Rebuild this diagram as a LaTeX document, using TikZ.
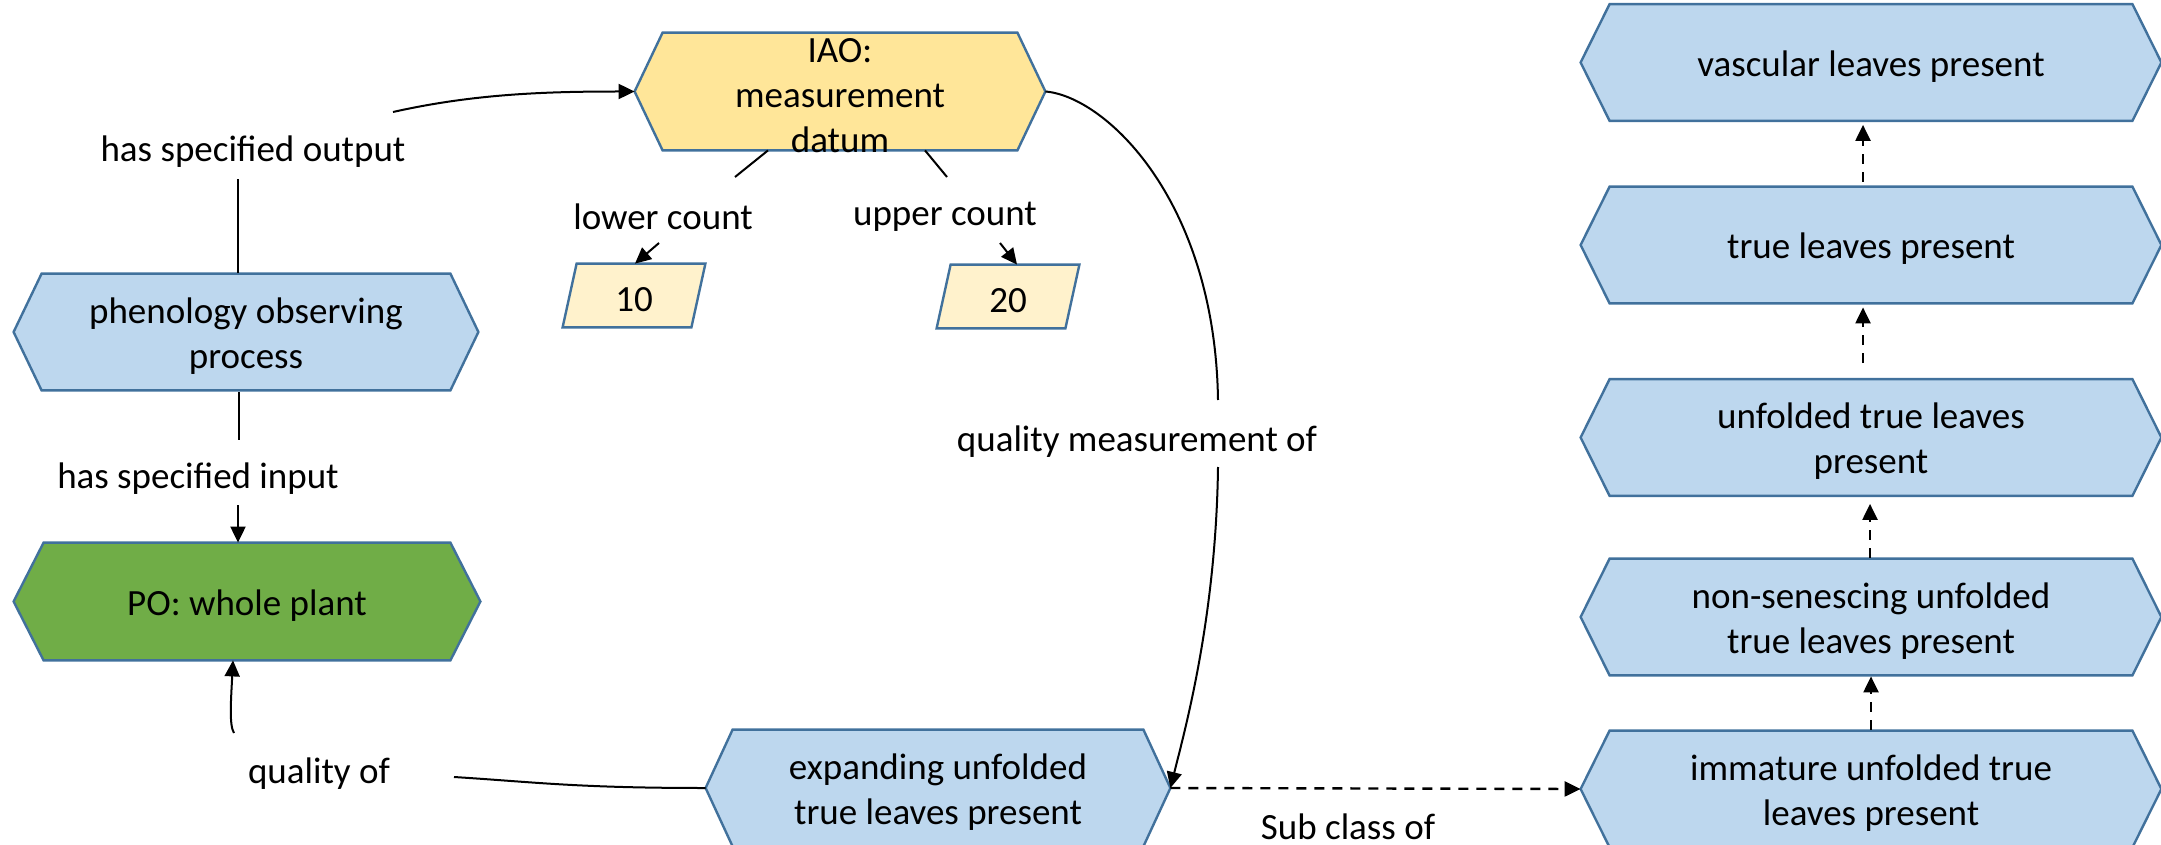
\documentclass[tikz,border=0pt]{standalone}
\usepackage{fontspec}
\setmainfont{Carlito}
\usetikzlibrary{arrows.meta,calc,backgrounds}
\definecolor{hexfill}{HTML}{BDD7EE}
\definecolor{hexline}{HTML}{41719C}
\definecolor{iaofill}{HTML}{FFE699}
\definecolor{valfill}{HTML}{FFF2CC}
\definecolor{pofill}{HTML}{70AD47}
\newcommand\hexpath[3]{\path[#2] (#1.west) -- ([xshift=#3]#1.north west) -- ([xshift=-#3]#1.north east) -- (#1.east) -- ([xshift=-#3]#1.south east) -- ([xshift=#3]#1.south west) -- cycle;}
\newcommand\parapath[3]{\path[#2] ([xshift=#3]#1.north west) -- ([xshift=#3]#1.north east) -- ([xshift=-#3]#1.south east) -- ([xshift=-#3]#1.south west) -- cycle;}
\begin{document}
\begin{tikzpicture}[x=0.5pt,y=-0.5pt,
  txt/.style={font=\fontsize{18.5}{22.5}\selectfont, inner sep=0pt, align=center},
  shapebox/.style={inner sep=0pt},
  intext/.style={txt, yshift=-2pt},
  lhex/.style={shapebox, minimum width=232pt, minimum height=58pt},
  rhex/.style={shapebox, minimum width=290pt, minimum height=58pt},
  valbox/.style={shapebox, minimum width=64pt, minimum height=31.5pt},
  hexdraw/.style={fill=hexfill, draw=hexline, line width=1.2pt},
  conn/.style={line width=1pt},
  arr/.style={conn, -{Triangle[length=8pt,width=7.5pt]}},
  dasharr/.style={arr, line width=1.2pt, dash pattern=on 5pt off 4pt},
]
\useasboundingbox (0,0) rectangle (2161,845);

% shapes
\node[shapebox, minimum width=205pt, minimum height=58.5pt, label={[intext]center:{IAO:\\measurement\\datum}}] (iao) at (840,91.5) {};
\node[lhex, label={[intext]center:{phenology observing\\process}}] (phen) at (246,332) {};
\node[lhex, minimum width=233pt, minimum height=58.5pt, label={[intext]center:{PO: whole plant}}] (po) at (247,601.5) {};
\node[lhex, label={[intext]center:{expanding unfolded\\true leaves present}}] (exp) at (938,788) {};
\node[rhex, label={[intext]center:{vascular leaves present}}] (vasc) at (1871,62.5) {};
\node[rhex, label={[intext]center:{true leaves present}}] (tlp) at (1871,245) {};
\node[rhex, label={[intext]center:{unfolded true leaves\\present}}] (utlp) at (1871,437.5) {};
\node[rhex, label={[intext]center:{non-senescing unfolded\\true leaves present}}] (nsu) at (1871,617) {};
\node[rhex, label={[intext]center:{immature unfolded true\\leaves present}}] (imm) at (1871,789) {};
\node[valbox, label={[intext]center:{10}}] (b10) at (634,295.5) {};
\node[valbox, label={[intext]center:{20}}] (b20) at (1008,296.5) {};

% labels
\node[txt] (hso) at (253,152) {has specified output};
\node[txt] (hsi) at (198,479) {has specified input};
\node[txt] (lc) at (663,217) {lower count};
\node[txt] (uc) at (945,217) {upper count};
\node[txt] (qmo) at (1137,442) {quality measurement of};
\node[txt] (qof) at (319,774) {quality of};
\node[txt] (sco) at (1348,827) {Sub class of};

\begin{scope}[on background layer]
\hexpath{iao}{fill=iaofill, draw=hexline, line width=1.2pt}{14pt}
\hexpath{phen}{hexdraw}{14pt}
\hexpath{po}{fill=pofill, draw=hexline, line width=1.2pt}{15pt}
\hexpath{exp}{hexdraw}{13.5pt}
\hexpath{vasc}{hexdraw}{14.5pt}
\hexpath{tlp}{hexdraw}{14.5pt}
\hexpath{utlp}{hexdraw}{14.5pt}
\hexpath{nsu}{hexdraw}{14.5pt}
\hexpath{imm}{hexdraw}{14.5pt}
\parapath{b10}{fill=valfill, draw=hexline, line width=1.2pt}{3.5pt}
\parapath{b20}{fill=valfill, draw=hexline, line width=1.2pt}{3.5pt}
\end{scope}

% connectors
\draw[conn] ($(phen.north)+(-8,-1)$) -- ($(hso.center)+(-15,27)$);
\draw[arr] ($(hso.center)+(140,-40)$) .. controls +(80,-18) and +(-90,0) .. (iao.west);
\draw[conn] ($(phen.south)+(-7,2)$) -- ($(hsi.center)+(41,-39)$);
\draw[arr] ($(hsi.center)+(40,26)$) -- ($(po.north)+(-9,0)$);
\draw[arr] ($(qof.center)+(-85,-41)$) .. controls +(-5,-8) and +(-2,40) .. ($(po.south)+(-14,0)$);
\draw[conn] (exp.west) .. controls +(-130,0) and +(80,5) .. ($(qof.center)+(135,3)$);
\draw[conn] (iao.east) .. controls +(60,5) and +(-3,-200) .. ($(qmo.center)+(81,-42)$);
\draw[arr] ($(qmo.center)+(81,25)$) .. controls +(-2,150) and +(15,-60) .. (exp.east);
\draw[conn] ($(iao.south)+(-72,0)$) -- ($(lc.center)+(72,-40)$);
\draw[arr] ($(lc.center)+(-4,26)$) -- ($(b10.north)+(1,0)$);
\draw[conn] ($(iao.south)+(85,0)$) -- ($(uc.center)+(2,-40)$);
\draw[arr] ($(uc.center)+(55,26)$) -- ($(b20.north)+(9,0)$);
\draw[dasharr] (exp.east) -- (imm.west);
\draw[dasharr] ($(tlp.north)+(-8,-5)$) -- ($(vasc.south)+(-8,4)$);
\draw[dasharr] ($(utlp.north)+(-8,-16)$) -- ($(tlp.south)+(-8,4)$);
\draw[dasharr] ($(nsu.north)+(-1,-1)$) -- ($(utlp.south)+(-1,8)$);
\draw[dasharr] ($(imm.north)+(0,-1)$) -- ($(nsu.south)+(0,1)$);
\end{tikzpicture}
\end{document}
